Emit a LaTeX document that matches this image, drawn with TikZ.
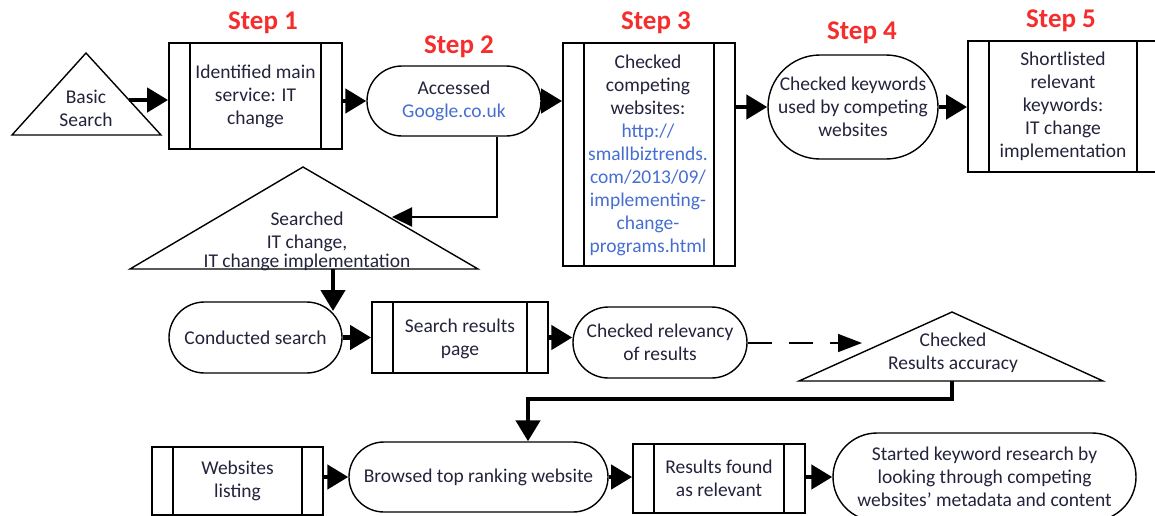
\documentclass[tikz,border=0pt]{standalone}
\usepackage{fontspec}
\setmainfont{Carlito}
\usetikzlibrary{shapes.misc,arrows.meta}
\definecolor{txt}{RGB}{35,35,60}
\definecolor{lnk}{RGB}{70,110,210}
\definecolor{stepred}{RGB}{245,45,45}
\begin{document}
\begin{tikzpicture}[x=1pt,y=-1pt,
  every node/.style={font=\fontsize{19.5}{23}\selectfont, text=txt, align=center, inner sep=0pt},
  procbox/.style={draw, line width=1.8pt, rectangle, fill=white,
    path picture={
      \draw[line width=1.8pt] ([xshift=21pt]path picture bounding box.north west) -- ([xshift=21pt]path picture bounding box.south west);
      \draw[line width=1.8pt] ([xshift=-21pt]path picture bounding box.north east) -- ([xshift=-21pt]path picture bounding box.south east);}},
  stadium/.style={draw, line width=1.4pt, rounded rectangle, fill=white},
  tri/.style={draw, line width=1.4pt, fill=white, line join=miter},
  steplabel/.style={font=\fontsize{27}{30}\selectfont\bfseries, text=stepred},
  thickarrow/.style={line width=4.5pt, -{Triangle[length=21pt,width=24pt]}},
  thinarrow/.style={line width=2.2pt, -{Triangle[length=20pt,width=19pt]}},
  dasharrow/.style={line width=1.5pt, dash pattern=on 24pt off 17pt, -{Triangle[length=24pt,width=18pt]}}
]
\fill[white] (0,0) rectangle (1155,515);
\useasboundingbox (0,0) rectangle (1155,515);

% step labels
\node[steplabel] (l1) at (263,23) {Step 1};
\node[steplabel] (l2) at (459,47) {Step 2};
\node[steplabel] (l3) at (656,23) {Step 3};
\node[steplabel] (l4) at (862,33) {Step 4};
\node[steplabel] (l5) at (1061,21) {Step 5};

% triangles
\coordinate (bA) at (86,53);
\coordinate (bL) at (12,135);
\coordinate (bR) at (161,135);
\draw[tri] (bA) -- (bL) -- (bR) -- cycle;
\node (basic) at (86,108) {Basic\\Search};
\coordinate (basicE) at (129,100);

\coordinate (stA) at (303,167);
\coordinate (stL) at (130,269);
\coordinate (stR) at (478,269);
\draw[tri] (stA) -- (stL) -- (stR) -- cycle;
\node (searched) at (307,241) {Searched\\IT change,\\[-4pt]IT change implementation};

\coordinate (ctA) at (952,312);
\coordinate (ctL) at (799,381);
\coordinate (ctR) at (1103,381);
\draw[tri] (ctA) -- (ctL) -- (ctR) -- cycle;
\node (checked) at (953,353) {Checked\\Results accuracy};

% boxes and stadiums (top row)
\node[procbox, minimum width=173pt, minimum height=106pt] (s1) at (255.5,96) {};
\node (s1t) at (255.5,96) {Identified main\\service: IT\\change};
\node[stadium, minimum width=174pt, minimum height=70pt] (s2) at (454,101) {Accessed\\\textcolor{lnk}{Google.co.uk}};
\node[procbox, minimum width=172pt, minimum height=223pt] (s3) at (649,154.5) {};
\node (s3t) at (648,155) {Checked\\competing\\websites:\\\textcolor{lnk}{http://}\\\textcolor{lnk}{smallbiztrends.}\\\textcolor{lnk}{com/2013/09/}\\\textcolor{lnk}{implementing-}\\\textcolor{lnk}{change-}\\\textcolor{lnk}{programs.html}};
\node[stadium, minimum width=170pt, minimum height=104pt] (s4) at (853,107) {Checked keywords\\used by competing\\websites};
\node[procbox, minimum width=190pt, minimum height=131pt] (s5) at (1063,106.5) {};
\node (s5t) at (1063,106.5) {Shortlisted\\relevant\\keywords:\\IT change\\implementation};

% middle row
\node[stadium, minimum width=173pt, minimum height=71pt] (cond) at (255.5,337.5) {Conducted search};
\node[procbox, minimum width=176pt, minimum height=71pt] (sr) at (460,337.5) {};
\node (srt) at (460,339) {Search results\\page};
\node[stadium, minimum width=174pt, minimum height=71pt] (rel) at (660,342.5) {Checked relevancy\\of results};

% bottom row
\node[procbox, minimum width=171pt, minimum height=68pt] (web) at (237.5,481) {};
\node (webt) at (237.5,481) {Websites\\listing};
\node[stadium, minimum width=259pt, minimum height=70pt] (brow) at (478.5,477) {Browsed top ranking website};
\node[procbox, minimum width=172pt, minimum height=69pt] (res) at (719,478.5) {};
\node (rest) at (719,478.5) {Results found\\as relevant};
\node[stadium, minimum width=303pt, minimum height=88pt] (st) at (984.5,477) {Started keyword research by\\looking through competing\\websites' metadata and content};

% connectors
\draw[thickarrow] (basicE) -- (s1.west |- basicE);
\draw[thickarrow] (s1.east |- s2.west) -- (s2.west);
\draw[thickarrow] (s2.east) -- (s3.west |- s2.east);
\draw[thickarrow] (s3.east |- s4.west) -- (s4.west);
\draw[thickarrow] (s4.east) -- (s5.west |- s4.east);

\coordinate (g1) at (497,217);
\coordinate (g2) at (392,217);
\draw[thinarrow, line join=miter] (s2.south -| g1) -- (g1) -- (g2);

\coordinate (sc1) at (333,269);
\coordinate (sc2) at (333,311);
\draw[thickarrow] (sc1) -- (sc2);

\draw[thickarrow] (cond.east) -- (sr.west |- cond.east);
\draw[thickarrow] (sr.east) -- (rel.west |- sr.east);
\coordinate (ctW) at (862,343);
\draw[dasharrow] (rel.east |- ctW) -- (ctW);

\coordinate (b0) at (952,381);
\coordinate (b1) at (952,399);
\coordinate (b2) at (528,399);
\draw[thickarrow, line join=miter] (b0) -- (b1) -- (b2) -- (b2 |- brow.north);

\draw[thickarrow] (web.east |- brow.west) -- (brow.west);
\draw[thickarrow] (brow.east) -- (res.west |- brow.east);
\draw[thickarrow] (res.east |- st.west) -- (st.west);
\end{tikzpicture}
\end{document}
